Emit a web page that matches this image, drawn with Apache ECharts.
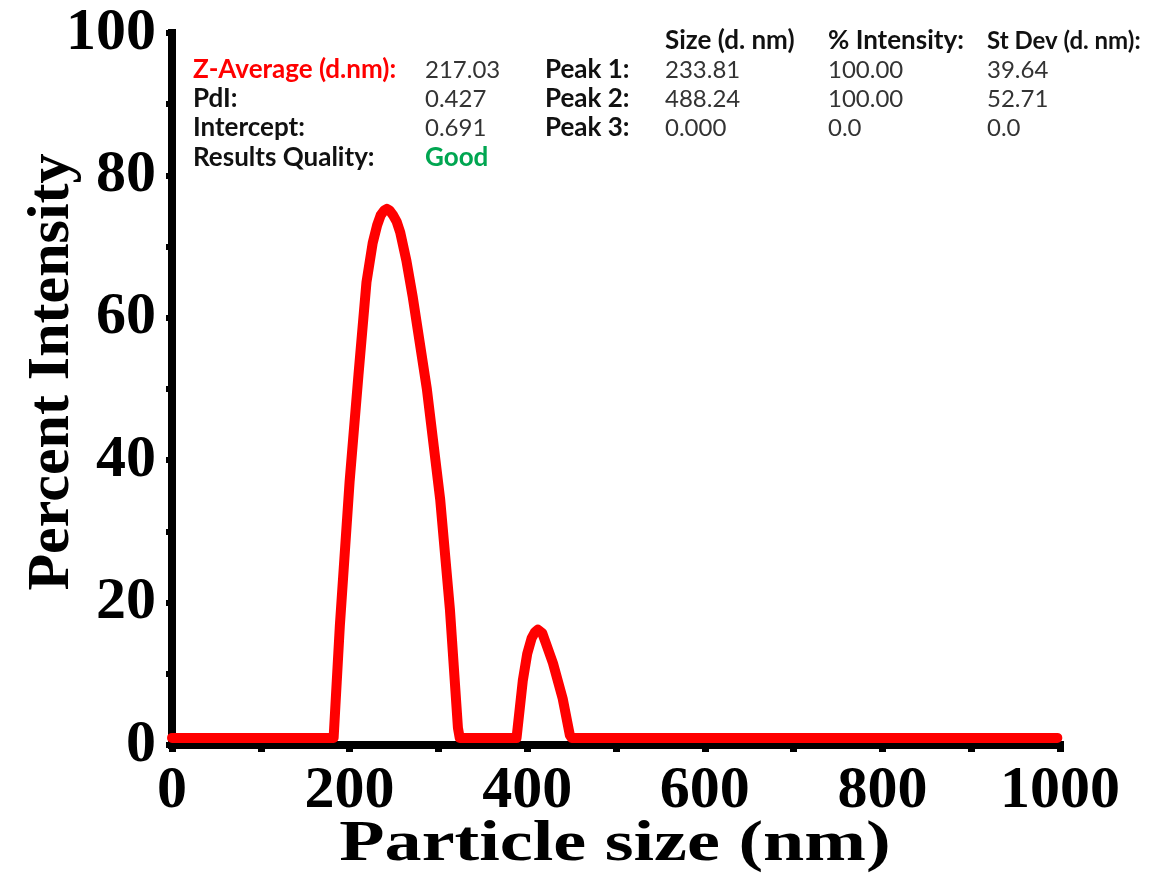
<!DOCTYPE html>
<html>
<head>
<meta charset="utf-8">
<script src="https://cdn.jsdelivr.net/npm/echarts@6/dist/echarts.min.js"></script>
<style>
html,body{margin:0;padding:0;background:#fff;}
#chart{width:1163px;height:874px;}
</style>
</head>
<body>
<div id="chart"></div>
<script>
// Particle size (nm) vs Percent Intensity
const sizeNm = [0, 182, 189, 200, 210, 219, 226, 231, 235, 239, 242, 245, 249, 253, 257, 264, 271, 287, 302, 313, 322, 324,
                388, 395, 400, 405, 409, 412, 414, 417, 421, 429, 440, 448, 450, 997];
const intensity = [1, 1, 16.7, 37, 52, 65, 70.5, 73, 74.4, 75.1, 75.3, 75.1, 74.4, 73.5, 72, 68, 63, 50, 34.5, 19, 2.4, 1,
                   1, 9, 12.8, 15, 15.9, 16.2, 16.2, 15.7, 14.3, 11.5, 6.5, 1.4, 1, 1];

const xTicks = [0, 200, 400, 600, 800, 1000];
const yTicks = [0, 20, 40, 60, 80, 100];
const xTitle = 'Particle size (nm)';
const yTitle = 'Percent Intensity';

// Result table text
const rowLabels = ['Z-Average (d.nm):', 'PdI:', 'Intercept:', 'Results Quality:'];
const rowValues = ['217.03', '0.427', '0.691', 'Good'];
const peakLabels = ['Peak 1:', 'Peak 2:', 'Peak 3:'];
const peakHeaders = ['Size (d. nm)', '% Intensity:', 'St Dev (d. nm):'];
const peakSize = ['233.81', '488.24', '0.000'];
const peakIntensity = ['100.00', '100.00', '0.0'];
const peakStDev = ['39.64', '52.71', '0.0'];

const serif = "'Liberation Serif', 'Times New Roman', serif";
const sans = "Lato, 'Open Sans', sans-serif";
const boldFont = 'bold 26px ' + sans;
const regFont = '24px ' + sans;

const rowY = [70, 99, 128, 158];
const headerY = 41;
const graphics = [];
function txt(x, y, text, opts) {
  graphics.push({
    type: 'text', x: x, y: y, z: 10,
    style: Object.assign({
      text: text, fill: '#333333', font: regFont,
      textAlign: 'left', textVerticalAlign: 'middle'
    }, opts || {})
  });
}
rowLabels.forEach((t, i) => txt(193, rowY[i], t, { fill: i === 0 ? '#ff0000' : '#111111', font: boldFont }));
rowValues.forEach((t, i) => txt(425, rowY[i], t, i === 3 ? { fill: '#00a651', font: boldFont } : {}));
peakLabels.forEach((t, i) => txt(545, rowY[i], t, { fill: '#111111', font: boldFont }));
const colX = [665, 828, 987];
const headerFont = 'bold 24px ' + sans;
peakHeaders.forEach((t, i) => txt(colX[i], headerY, t, { fill: '#111111', font: i === 2 ? headerFont : boldFont }));
peakSize.forEach((t, i) => txt(colX[0], rowY[i], t));
peakIntensity.forEach((t, i) => txt(colX[1], rowY[i], t));
peakStDev.forEach((t, i) => txt(colX[2], rowY[i], t));

// axis titles
graphics.push({
  type: 'text', x: 615, y: 845, scaleX: 1.3, z: 10,
  style: { text: xTitle, fill: '#000', font: 'bold 57px ' + serif, textAlign: 'center', textVerticalAlign: 'middle' }
});
graphics.push({
  type: 'text', x: 52, y: 372, rotation: Math.PI / 2, z: 10,
  style: { text: yTitle, fill: '#000', font: 'bold 60px ' + serif, textAlign: 'center', textVerticalAlign: 'middle' }
});

const chart = echarts.init(document.getElementById('chart'), null, { renderer: 'canvas' });
chart.setOption({
  backgroundColor: '#ffffff',
  animation: false,
  grid: { left: 172, right: 103, top: 33, bottom: 129, containLabel: false, outerBoundsMode: 'none' },
  xAxis: {
    type: 'value', min: 0, max: 1000, interval: 100,
    axisLine: { show: true, onZero: false, lineStyle: { color: '#000', width: 8, cap: 'square' } },
    axisTick: { show: true, length: 7, lineStyle: { color: '#000', width: 7 } },
    axisLabel: {
      fontFamily: serif, fontWeight: 'bold', fontSize: 60, color: '#000', margin: 16,
      formatter: v => xTicks.indexOf(v) >= 0 ? String(v) : ''
    },
    splitLine: { show: false }
  },
  yAxis: {
    type: 'value', min: 0, max: 100, interval: 10,
    axisLine: { show: true, onZero: false, lineStyle: { color: '#000', width: 8, cap: 'square' } },
    axisTick: { show: true, length: 6, lineStyle: { color: '#000', width: 6 } },
    axisLabel: {
      fontFamily: serif, fontWeight: 'bold', fontSize: 60, color: '#000', margin: 16,
      formatter: v => yTicks.indexOf(v) >= 0 ? String(v) : ''
    },
    splitLine: { show: false }
  },
  series: [{
    type: 'line',
    data: sizeNm.map((x, i) => [x, intensity[i]]),
    showSymbol: false,
    smooth: false,
    lineStyle: { color: '#ff0000', width: 10, cap: 'round', join: 'round' },
    z: 3
  }],
  graphic: graphics
});
</script>
</body>
</html>
